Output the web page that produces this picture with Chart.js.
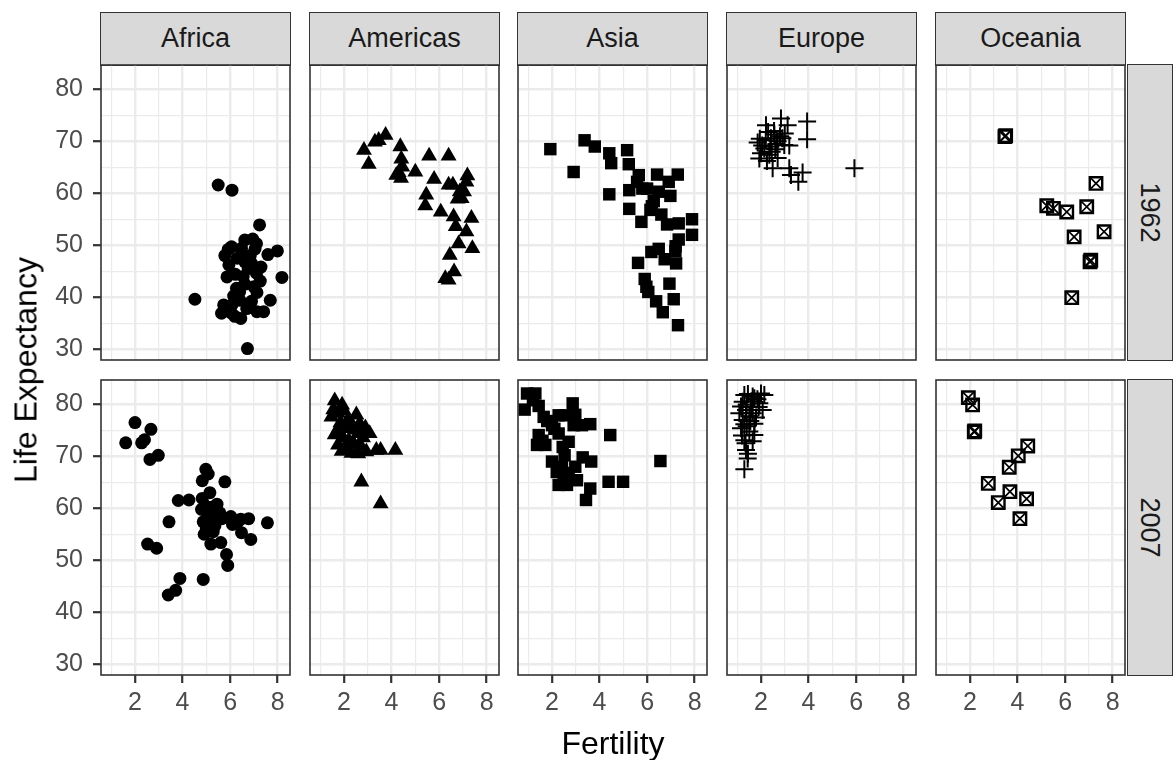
<!DOCTYPE html>
<html>
<head>
<meta charset="utf-8">
<script src="https://cdn.jsdelivr.net/npm/chart.js@4.4.1/dist/chart.umd.min.js"></script>
<style>
  body { margin: 0; background: #fff; width: 1176px; height: 760px; overflow: hidden; position: relative;
         font-family: 'Liberation Sans', Arial, sans-serif; }
  .strip { position: absolute; background: #d9d9d9; border: 1.6px solid #333; box-sizing: border-box;
           color: #1a1a1a; font-size: 27px; display: flex; align-items: center; justify-content: center; }
  .strip span.v { transform: rotate(90deg); white-space: nowrap; }
  .box { position: absolute; }
  .title { position: absolute; font-size: 32px; color: #000; white-space: nowrap; transform: translate(-50%, -50%); }
</style>
</head>
<body>
<script>
// facets
const continents = ['Africa', 'Americas', 'Asia', 'Europe', 'Oceania'];
const years = ['1962', '2007'];

// axes
const xLimits = [0.57, 8.52];
const yLimits = [27.9, 84.7];
const xGrid = [1, 2, 3, 4, 5, 6, 7, 8];
const xLabels = [2, 4, 6, 8];
const yGrid = [30, 35, 40, 45, 50, 55, 60, 65, 70, 75, 80];
const yLabels = [30, 40, 50, 60, 70, 80];

// [fertility, life expectancy]
const africa1962 = [[5.50,61.6],[6.08,60.6],[7.24,53.9],[4.52,39.6],[6.73,30.1],[8.18,43.8],[7.99,48.9],[7.59,48.2],
  [6.62,51.0],[7.11,50.3],[6.06,49.7],[5.92,49.2],[5.78,48.0],[6.48,49.4],[7.05,49.3],[6.62,46.8],[6.90,46.5],
  [6.76,45.5],[7.11,44.6],[7.27,43.1],[5.87,43.9],[6.22,44.4],[6.27,41.7],[6.62,42.5],[7.13,40.9],[6.41,39.4],
  [6.90,39.2],[7.69,39.4],[5.73,38.5],[6.08,38.5],[5.64,36.9],[6.06,36.9],[6.20,36.3],[6.45,35.9],[7.13,37.2],
  [7.41,37.2],[6.30,47.5],[6.55,44.0],[6.85,48.0],[5.95,46.2],[6.40,41.0],[7.00,42.0],[6.70,37.8],[6.15,40.2],
  [7.30,45.8],[5.85,37.5],[6.95,51.2],[6.50,48.2]];
const africa2007 = [[2.00,76.5],[2.67,75.2],[1.61,72.6],[2.28,72.6],[2.40,73.2],[2.63,69.4],[2.98,70.2],[4.98,67.5],
  [5.08,66.6],[4.83,65.3],[5.78,65.1],[5.15,63.0],[4.83,61.9],[3.82,61.5],[4.27,61.6],[4.80,59.8],[5.22,60.2],
  [5.57,59.1],[6.03,58.4],[6.45,57.9],[6.78,58.0],[7.57,57.2],[3.43,57.4],[4.87,57.4],[5.29,58.1],[5.36,56.6],
  [6.10,56.9],[6.48,55.3],[6.87,54.0],[4.91,55.0],[5.29,55.5],[5.19,53.1],[5.61,53.4],[2.53,53.1],[2.91,52.3],
  [5.85,51.1],[5.90,49.0],[3.89,46.5],[4.87,46.3],[3.71,44.2],[3.40,43.3],[5.05,58.8],[5.45,60.8],[5.00,56.0],
  [5.40,57.5],[4.95,60.5],[6.30,57.2],[5.65,58.0]];
const americas1962 = [[3.75,71.2],[3.46,70.2],[3.30,69.9],[2.84,68.3],[3.04,65.6],[4.37,69.0],[4.41,66.6],[4.45,65.1],
  [4.30,64.0],[4.40,62.9],[4.20,63.5],[5.00,64.1],[5.58,67.2],[6.40,67.2],[5.79,62.7],[7.19,63.4],[7.15,62.2],
  [6.40,61.6],[6.58,61.6],[6.87,60.3],[7.05,60.3],[6.78,58.9],[6.95,59.0],[5.46,59.7],[5.42,57.6],[6.07,56.4],
  [6.61,55.5],[7.36,55.2],[6.70,53.6],[7.15,52.6],[6.82,50.3],[7.40,49.4],[6.45,48.1],[6.63,44.9],[6.26,43.6],
  [6.40,43.3]];
const americas2007 = [[1.61,80.7],[1.92,79.9],[1.47,77.6],[1.75,78.3],[2.52,78.0],[2.17,77.0],[2.66,76.3],[1.75,75.1],
  [2.10,75.4],[2.45,75.1],[3.08,74.4],[1.75,72.2],[2.10,71.2],[2.31,70.6],[2.94,70.9],[3.36,71.2],[3.54,71.2],
  [4.16,71.2],[2.73,65.1],[3.54,60.9],[1.61,74.2],[1.96,73.6],[2.59,74.4],[2.80,73.6],[2.20,73.0],[1.85,76.5],
  [2.35,76.0],[2.70,72.0],[2.00,78.8],[1.55,79.0],[2.90,75.5],[2.40,72.5],[1.90,71.0],[2.60,70.5]];
const asia1962 = [[1.93,68.5],[2.91,64.1],[3.37,70.2],[3.80,69.0],[4.41,67.7],[4.49,65.8],[5.16,68.3],[5.23,65.6],
  [4.41,59.8],[5.65,63.5],[5.58,62.2],[6.42,63.6],[7.29,63.6],[6.91,62.2],[5.25,60.6],[5.80,60.9],[6.00,60.9],
  [6.49,60.3],[6.98,59.5],[6.28,58.5],[6.20,57.5],[5.25,57.0],[6.14,56.8],[6.60,55.9],[5.76,54.5],[6.84,54.0],
  [7.33,54.2],[7.89,55.0],[7.89,52.0],[7.33,51.1],[6.18,48.7],[6.49,49.3],[7.19,48.9],[5.62,46.6],[6.74,47.3],
  [7.22,46.5],[5.90,43.5],[5.97,42.0],[6.94,42.6],[6.38,39.2],[7.12,39.6],[6.66,37.1],[7.30,34.6],[7.20,49.8],
  [6.05,41.0]];
const asia2007 = [[0.95,82.1],[1.30,82.1],[0.85,79.0],[1.44,79.7],[1.65,77.6],[2.28,77.9],[2.56,77.9],[2.87,80.2],
  [2.98,78.0],[2.91,76.0],[3.26,76.0],[3.61,76.2],[2.00,76.0],[2.28,74.4],[4.45,74.1],[1.44,74.1],[1.37,72.2],
  [1.72,72.2],[2.00,69.0],[2.53,70.2],[3.29,69.8],[3.65,69.0],[6.56,69.1],[2.42,68.0],[2.98,68.0],[2.49,66.4],
  [3.05,65.4],[2.28,64.5],[2.63,64.5],[3.61,63.8],[3.43,61.6],[4.38,65.1],[4.99,65.1],[1.20,80.8],[2.10,75.3],
  [1.80,76.8],[2.70,72.8],[2.45,71.8],[1.60,73.0],[2.70,66.8],[2.20,67.0]];
const europe1962 = [[5.93,64.8],[3.94,73.8],[3.94,70.4],[2.84,74.4],[3.12,73.1],[2.21,73.1],[2.55,72.0],[2.98,69.3],
  [3.19,69.2],[1.86,69.8],[2.14,68.6],[2.42,70.6],[2.70,70.0],[2.00,67.7],[2.35,67.4],[2.49,64.8],[3.19,64.8],
  [3.26,63.5],[3.75,64.0],[3.57,62.2],[1.93,66.7],[2.56,71.3],[2.20,70.2],[2.40,69.0],[2.60,68.5],[2.80,71.0],
  [2.30,71.8],[2.05,69.2],[1.95,70.5],[2.65,69.5],[2.45,68.0],[2.90,70.6],[2.25,66.2],[3.00,71.5],[2.70,66.8]];
const europe2007 = [[2.00,82.1],[1.30,81.8],[2.14,81.8],[1.72,81.2],[1.23,80.5],[1.93,80.2],[1.58,79.5],[2.07,78.9],
  [1.09,78.3],[1.65,78.3],[1.23,77.0],[1.72,76.3],[1.16,75.4],[1.51,74.8],[1.72,74.1],[1.30,73.1],[1.65,72.9],
  [1.37,71.2],[1.44,69.6],[1.30,67.5],[1.51,77.7],[1.37,78.9],[1.79,77.5],[1.16,79.6],[1.40,80.0],[1.85,81.0],
  [1.45,82.0],[1.60,80.6],[1.30,76.2],[1.55,76.8],[1.20,74.0],[1.40,75.8],[1.90,79.5],[1.35,72.5],[1.45,70.5],
  [1.65,81.5]];
const oceania1962 = [[3.47,70.9],[3.50,71.1],[7.30,61.9],[5.23,57.6],[5.51,57.1],[6.07,56.4],[6.91,57.4],[7.64,52.6],
  [6.38,51.6],[7.05,46.8],[7.08,47.1],[6.28,39.9]];
const oceania2007 = [[1.93,81.3],[2.11,79.9],[2.18,74.7],[2.20,74.9],[4.43,72.0],[4.03,70.1],[3.65,67.9],[2.77,64.8],
  [3.68,63.2],[3.19,61.1],[4.38,61.8],[4.10,58.0]];

const panelData = {
  Africa: [africa1962, africa2007],
  Americas: [americas1962, americas2007],
  Asia: [asia1962, asia2007],
  Europe: [europe1962, europe2007],
  Oceania: [oceania1962, oceania2007]
};

// one or two point layers per continent (Oceania = square with an X)
const shapes = {
  Africa: [{ pointStyle: 'circle', pointRadius: 6.5, pointBackgroundColor: '#000', pointBorderWidth: 0 }],
  Americas: [{ pointStyle: 'triangle', pointRadius: 9.2, pointBackgroundColor: '#000', pointBorderWidth: 0 }],
  Asia: [{ pointStyle: 'rect', pointRadius: 8.8, pointBackgroundColor: '#000', pointBorderWidth: 0 }],
  Europe: [{ pointStyle: 'cross', pointRadius: 9, pointBorderColor: '#000', pointBorderWidth: 2 }],
  Oceania: [
    { pointStyle: 'rect', pointRadius: 8.8, pointBackgroundColor: 'rgba(0,0,0,0)', pointBorderColor: '#000', pointBorderWidth: 2.4 },
    { pointStyle: 'crossRot', pointRadius: 8.8, pointBorderColor: '#000', pointBorderWidth: 1.7 }
  ]
};

// layout
const PANEL_X = [101, 310, 518, 727, 936];
const PANEL_Y = [65, 380];
const PANEL_W = 189, PANEL_H = 295;
const AXIS_W = 101, AXIS_H = 50, PAD = 30;

Chart.defaults.font.family = "'Liberation Sans', Arial, sans-serif";

const frame = {
  id: 'frame',
  afterDraw(chart) {
    const { ctx, chartArea: a } = chart;
    ctx.save();
    ctx.strokeStyle = '#333';
    ctx.lineWidth = 1.6;
    ctx.strokeRect(a.left, a.top, a.right - a.left, a.bottom - a.top);
    ctx.restore();
  }
};

function addDiv(cls, css, html) {
  const d = document.createElement('div');
  d.className = cls;
  Object.assign(d.style, css);
  d.innerHTML = html;
  document.body.appendChild(d);
  return d;
}

function makePanel(col, row) {
  const name = continents[col];
  const isLeft = col === 0, isBottom = row === 1;
  const padL = isLeft ? AXIS_W : PAD, padB = isBottom ? AXIS_H : PAD;
  const w = PANEL_W + padL + PAD, h = PANEL_H + PAD + padB;
  const box = addDiv('box', { left: (PANEL_X[col] - padL) + 'px', top: (PANEL_Y[row] - PAD) + 'px',
    width: w + 'px', height: h + 'px' }, '');
  const cv = document.createElement('canvas');
  cv.width = w; cv.height = h;
  box.appendChild(cv);

  const pts = panelData[name][row].map(([x, y]) => ({ x, y }));
  const datasets = shapes[name].map(s => Object.assign({ data: pts }, s));

  const gridFor = (major, showTicks) => ({
    color: '#ebebeb',
    lineWidth: c => (c.tick && major.includes(c.tick.value)) ? 2.4 : 1.2,
    drawTicks: showTicks,
    tickLength: 8,
    tickWidth: 2.2,
    tickColor: c => (c.tick && major.includes(c.tick.value)) ? '#333' : 'rgba(0,0,0,0)'
  });

  new Chart(cv, {
    type: 'scatter',
    data: { datasets },
    options: {
      responsive: false,
      animation: false,
      events: [],
      layout: { padding: { left: isLeft ? 0 : PAD, right: PAD, top: PAD, bottom: isBottom ? 0 : PAD } },
      plugins: { legend: { display: false }, tooltip: { enabled: false } },
      scales: {
        x: {
          type: 'linear', min: xLimits[0], max: xLimits[1],
          afterBuildTicks: s => { s.ticks = xGrid.map(v => ({ value: v })); },
          afterFit: s => { s.height = isBottom ? AXIS_H : 0; },
          ticks: { display: isBottom, autoSkip: false, maxRotation: 0, padding: 5, color: '#4d4d4d',
                   font: { size: 25 }, callback: v => xLabels.includes(v) ? String(v) : '' },
          grid: gridFor(xLabels, isBottom),
          border: { display: false }
        },
        y: {
          type: 'linear', min: yLimits[0], max: yLimits[1],
          afterBuildTicks: s => { s.ticks = yGrid.map(v => ({ value: v })); },
          afterFit: s => { s.width = isLeft ? AXIS_W : 0; },
          ticks: { display: isLeft, autoSkip: false, padding: 10, color: '#4d4d4d',
                   font: { size: 25 }, callback: v => yLabels.includes(v) ? String(v) : '' },
          grid: gridFor(yLabels, isLeft),
          border: { display: false }
        }
      }
    },
    plugins: [frame]
  });
}

// strips
continents.forEach((name, c) => {
  addDiv('strip', { left: (PANEL_X[c] - 0.8) + 'px', top: '12px', width: (PANEL_W + 1.6) + 'px', height: '53.8px' }, name);
});
years.forEach((yr, r) => {
  addDiv('strip', { left: '1126.5px', top: (PANEL_Y[r] - 0.8) + 'px', width: '46px', height: (PANEL_H + 1.6) + 'px' },
    '<span class="v">' + yr + '</span>');
});

for (let r = 0; r < years.length; r++) {
  for (let c = 0; c < continents.length; c++) makePanel(c, r);
}

// axis titles
addDiv('title', { left: ((PANEL_X[0] + PANEL_X[4] + PANEL_W) / 2) + 'px', top: '743px' }, 'Fertility');
addDiv('title', { left: '26px', top: ((PANEL_Y[0] + PANEL_Y[1] + PANEL_H) / 2) + 'px',
  transform: 'translate(-50%, -50%) rotate(-90deg)' }, 'Life Expectancy');
</script>
</body>
</html>
